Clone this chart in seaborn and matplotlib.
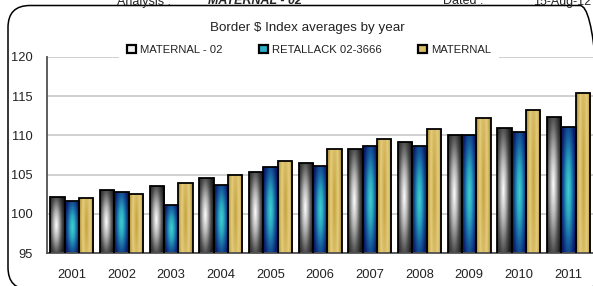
import numpy as np
import pandas as pd
import matplotlib
matplotlib.use("Agg")
import matplotlib.pyplot as plt
import seaborn as sns
from matplotlib.colors import LinearSegmentedColormap
from matplotlib.patches import Patch, FancyBboxPatch

# data
years = ["2001", "2002", "2003", "2004", "2005", "2006", "2007", "2008", "2009", "2010", "2011"]
series = ["MATERNAL - 02", "RETALLACK 02-3666", "MATERNAL"]
maternal_02 = [102.1, 103.0, 103.5, 104.6, 105.4, 106.45, 108.3, 109.2, 110.0, 110.9, 112.3]
retallack = [101.6, 102.8, 101.2, 103.65, 106.0, 106.1, 108.6, 108.6, 110.1, 110.4, 111.1]
maternal = [102.0, 102.6, 104.0, 105.0, 106.7, 108.2, 109.5, 110.8, 112.25, 113.2, 115.35]
yticks = [95, 100, 105, 110, 115, 120]

df = pd.DataFrame({
    "year": years * 3,
    "series": [series[0]] * 11 + [series[1]] * 11 + [series[2]] * 11,
    "value": maternal_02 + retallack + maternal,
})

sns.set_style("white")
plt.rcParams["font.family"] = ["Liberation Sans Narrow", "Liberation Sans", "DejaVu Sans"]

W, H = 593, 286
fig = plt.figure(figsize=(W / 100, H / 100), dpi=100)
ax = fig.add_axes([47 / W, (H - 253.3) / H, (593.4 - 47) / W, (253.3 - 56.7) / H])

sns.barplot(data=df, x="year", y="value", hue="series", hue_order=series,
            palette=["#888888", "#1a78a8", "#d6bd6b"], width=0.87,
            edgecolor="black", linewidth=1.3, legend=False, ax=ax)

# gradient fills, one per series
grads = {
    0: (["#ffffff", "#b4b4b4", "#505050", "#1a1a1a"], 0.42, 0.45),
    1: (["#40d2d0", "#2aa6bf", "#15589a", "#0a1c6a"], 0.5, 0.55),
    2: (["#c4a240", "#d6b95f", "#e4cd80", "#cdb055", "#a2832c"], 0.5, 0.08),
}


def grad_img(stops, cx, k):
    xs = np.linspace(0, 1, 40)
    ys = np.linspace(0, 1, 120)
    X, Y = np.meshgrid(xs, ys)
    u = np.abs(X - cx) / max(cx, 1 - cx)
    v = np.abs(Y - 0.5) / 0.5
    t = np.clip(np.sqrt(u ** 2 + k * v ** 2), 0, 1)
    cmap = LinearSegmentedColormap.from_list("g", stops)
    return cmap(t)


for i, cont in enumerate(ax.containers):
    stops, cx, k = grads[i]
    img = grad_img(stops, cx, k)
    for bar in cont:
        x0 = bar.get_x()
        x1 = x0 + bar.get_width()
        top = bar.get_height()
        bar.set_facecolor("none")
        bar.set_zorder(3)
        im = ax.imshow(img, extent=[x0, x1, 95, top], origin="lower",
                       aspect="auto", zorder=2)
        im.set_clip_path(bar)

ax.set_xlim(-0.5, 10.5)
ax.set_ylim(95, 120)
ax.set_yticks(yticks)
ax.set_xlabel("")
ax.set_ylabel("")
ax.set_axisbelow(True)
ax.grid(axis="y", color="#c8c8c8", linewidth=1.2)
ax.grid(axis="x", visible=False)
for s in ["top", "right"]:
    ax.spines[s].set_visible(False)
for s in ["left", "bottom"]:
    ax.spines[s].set_color("#505050")
    ax.spines[s].set_linewidth(1.3)
ax.set_xticks(np.arange(-0.5, 11, 1), minor=True)
ax.tick_params(axis="x", which="major", length=0, pad=11, labelsize=9.3, colors="#222222")
ax.tick_params(axis="x", which="minor", length=4, direction="out", color="#505050", width=1.2)
ax.tick_params(axis="y", length=4, direction="out", color="#505050", width=1.2,
               pad=6, labelsize=9.3, labelcolor="#222222")

# legend
handles = [Patch(facecolor=c, edgecolor="black", linewidth=1.6)
           for c in ["#f0f0f0", "#2ab0c8", "#dcc068"]]
leg = ax.legend(handles, series, loc="center", ncol=3,
                bbox_to_anchor=(309 / W, 1 - 50 / H), bbox_transform=fig.transFigure,
                frameon=True, fancybox=False, framealpha=1, edgecolor="none",
                facecolor="white", fontsize=8.1, handlelength=0.75, handleheight=0.75,
                handletextpad=0.35, columnspacing=3.3, borderpad=0.7, borderaxespad=0)
for t in leg.get_texts():
    t.set_color("#222222")

fig.text(307 / W, 1 - 28 / H, "Border $ Index averages by year", ha="center", va="center",
         fontsize=9.6, color="#222222")

# cut-off header line above the frame
fig.text(117 / W, 1 - 4.5 / H, "Analysis :", ha="left", va="baseline", fontsize=9)
fig.text(208 / W, 1 - 4.5 / H, "MATERNAL - 02", ha="left", va="baseline", fontsize=9,
         fontweight="bold", fontstyle="italic")
fig.text(443 / W, 1 - 4.5 / H, "Dated :", ha="left", va="baseline", fontsize=9)
fig.text(533 / W, 1 - 4.5 / H, "15-Aug-12", ha="left", va="baseline", fontsize=9)

# rounded frame around the chart (bottom edge just outside the picture)
frame = FancyBboxPatch((0.08, -0.035), 5.94, 2.86 - 0.055 + 0.035,
                       boxstyle="round,pad=0,rounding_size=0.22",
                       transform=fig.dpi_scale_trans, facecolor="none",
                       edgecolor="black", linewidth=1.1)
fig.patches.append(frame)

fig.savefig("out.png", dpi=100)
plt.close(fig)
